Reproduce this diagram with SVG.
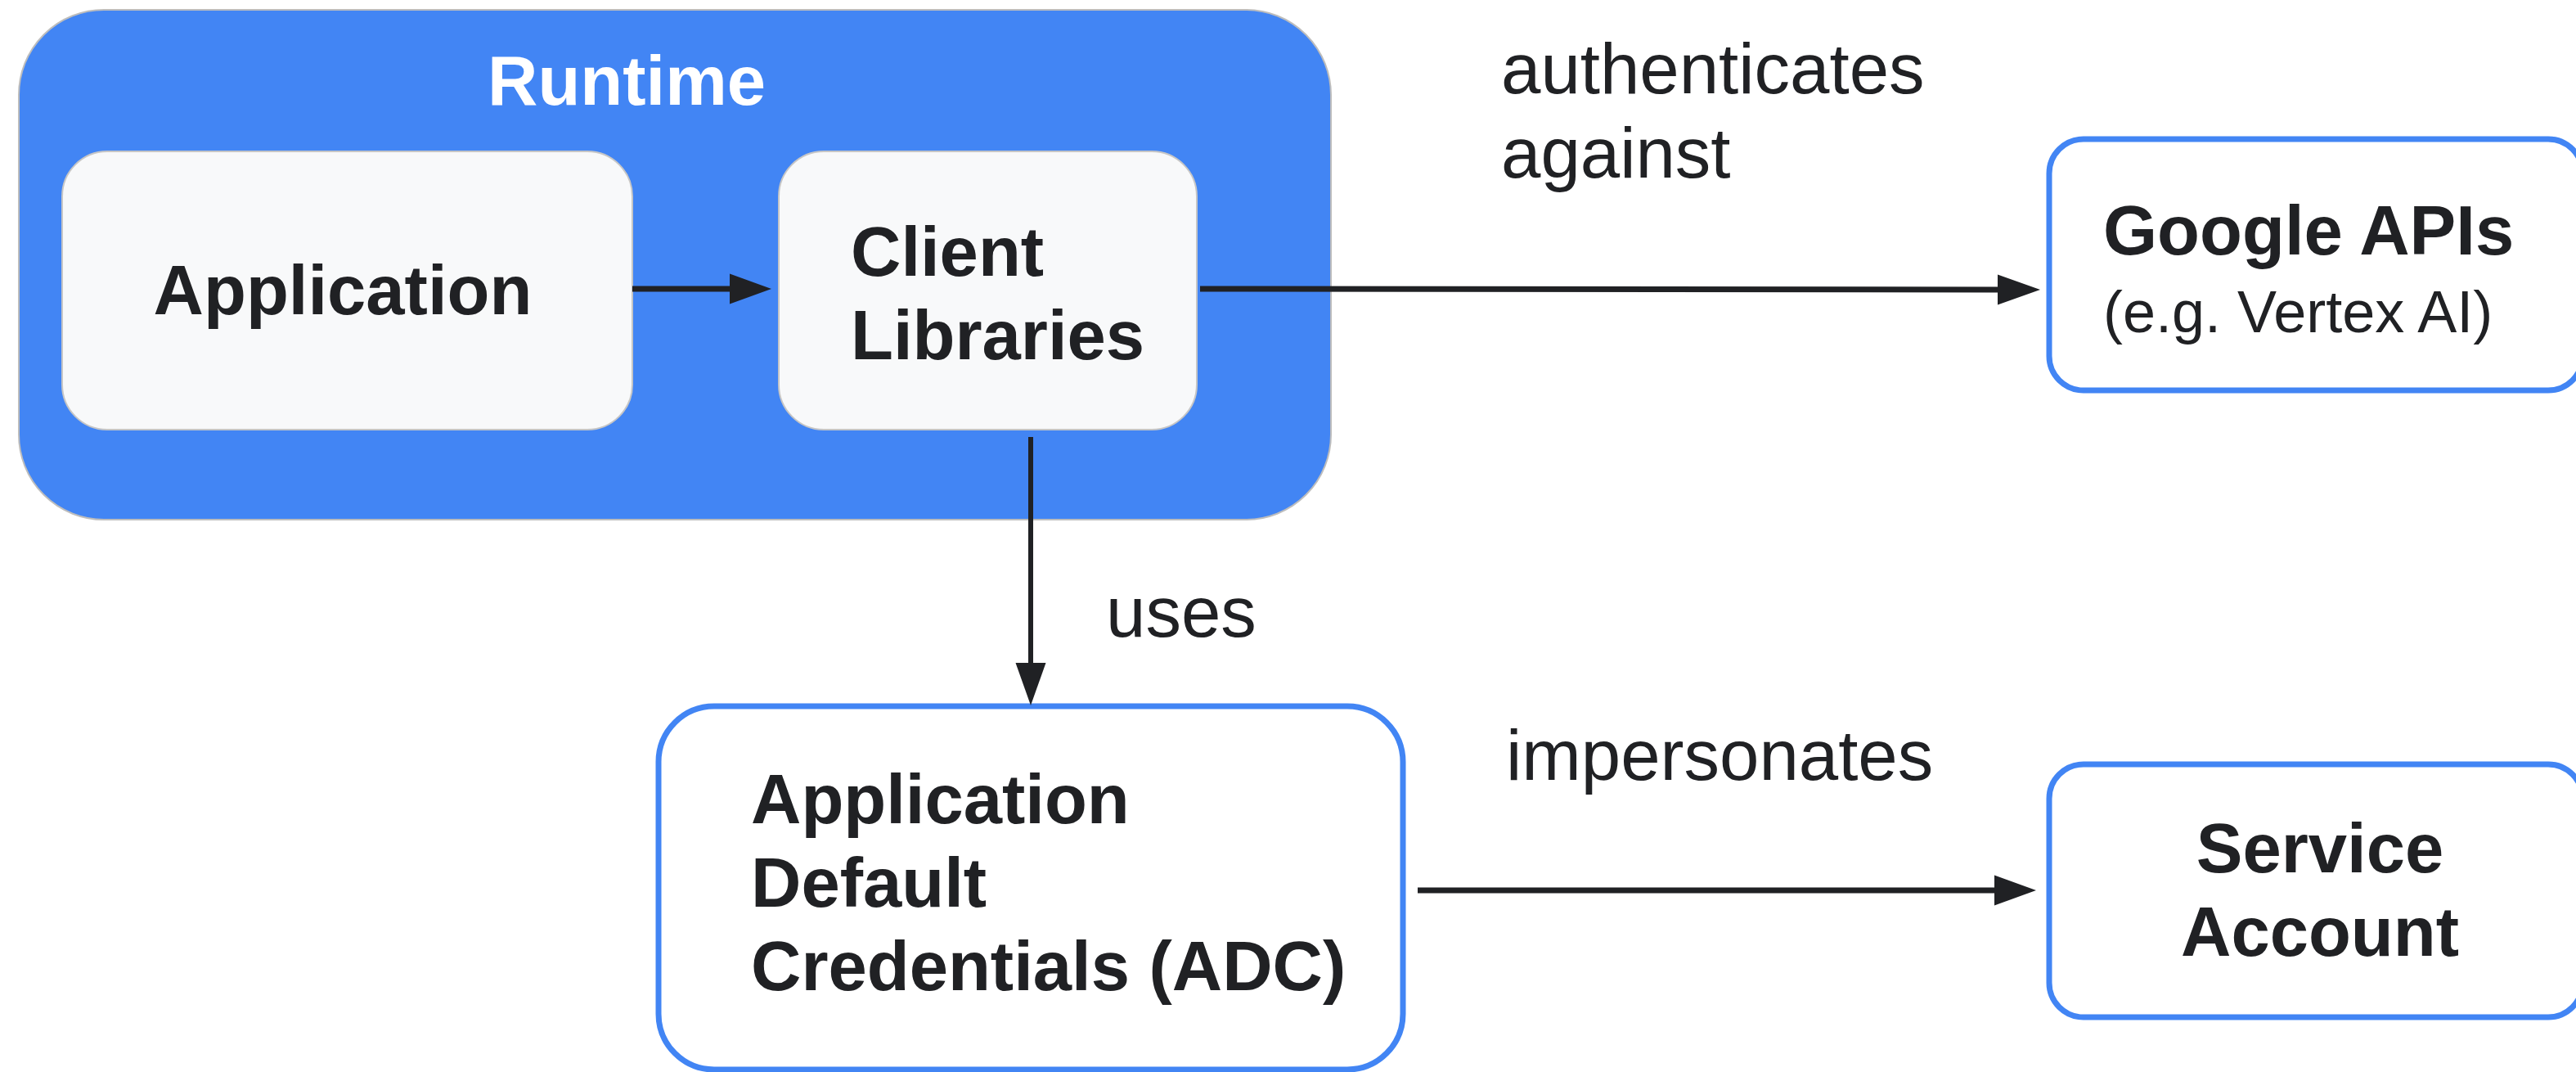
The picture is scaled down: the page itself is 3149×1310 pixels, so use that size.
<svg xmlns="http://www.w3.org/2000/svg" width="3149" height="1310" viewBox="0 0 3149 1310">
<style>
.bold{font-family:"Liberation Sans",Arial,sans-serif;font-weight:bold;font-size:85px;fill:#202124}
.reg{font-family:"Liberation Sans",Arial,sans-serif;font-size:87px;fill:#202124}
.sub{font-family:"Liberation Sans",Arial,sans-serif;font-size:72px;fill:#202124}
.inner{fill:#f8f9fa;stroke:#c6c6c6;stroke-width:2}
.outline{fill:#ffffff;stroke:#4285f4;stroke-width:7}
.line{stroke:#202124;stroke-width:7;fill:none}
.head{fill:#202124}
</style>
<rect width="3149" height="1310" fill="#ffffff"/>
<g id="runtime">
<rect x="23" y="12" width="1604" height="623" rx="104" ry="104" fill="#4285f4" stroke="#bdbdbd" stroke-width="2"/>
<text x="766" y="128" text-anchor="middle" class="bold" style="fill:#ffffff">Runtime</text>
</g>
<g id="application">
<rect x="76" y="185" width="697" height="340" rx="55" ry="55" class="inner"/>
<text x="419" y="384" text-anchor="middle" class="bold">Application</text>
</g>
<g id="client-libraries">
<rect x="952" y="185" width="511" height="340" rx="55" ry="55" class="inner"/>
<text x="1040" y="337" class="bold">Client</text>
<text x="1040" y="439" class="bold">Libraries</text>
</g>
<g id="google-apis">
<rect x="2505" y="170" width="652" height="307" rx="42" ry="42" class="outline"/>
<text x="2571" y="311" class="bold">Google APIs</text>
<text x="2571" y="406" class="sub">(e.g. Vertex AI)</text>
</g>
<g id="adc">
<rect x="805" y="863" width="910" height="444" rx="68" ry="68" class="outline"/>
<text x="918" y="1006" class="bold">Application</text>
<text x="918" y="1108" class="bold">Default</text>
<text x="918" y="1210" class="bold">Credentials (ADC)</text>
</g>
<g id="service-account">
<rect x="2505" y="934" width="652" height="309" rx="42" ry="42" class="outline"/>
<text x="2836" y="1066" text-anchor="middle" class="bold">Service</text>
<text x="2836" y="1168" text-anchor="middle" class="bold">Account</text>
</g>
<g id="connectors">
<line x1="773" y1="353" x2="893" y2="353" class="line"/>
<polygon points="892,334.5 943,353 892,371.5" class="head"/>
<line x1="1467" y1="353" x2="2443" y2="354" class="line"/>
<polygon points="2442,335.5 2494,354 2442,372.5" class="head"/>
<line x1="1260" y1="534" x2="1260" y2="811" class="line" style="stroke-width:6"/>
<polygon points="1241.5,810 1260,862 1278.5,810" class="head"/>
<line x1="1733" y1="1088" x2="2439" y2="1088" class="line"/>
<polygon points="2438,1069.5 2489,1088 2438,1106.5" class="head"/>
<text x="1835" y="114" class="reg">authenticates</text>
<text x="1835" y="217" class="reg">against</text>
<text x="1352" y="778" class="reg">uses</text>
<text x="1841" y="953" class="reg">impersonates</text>
</g>
</svg>
